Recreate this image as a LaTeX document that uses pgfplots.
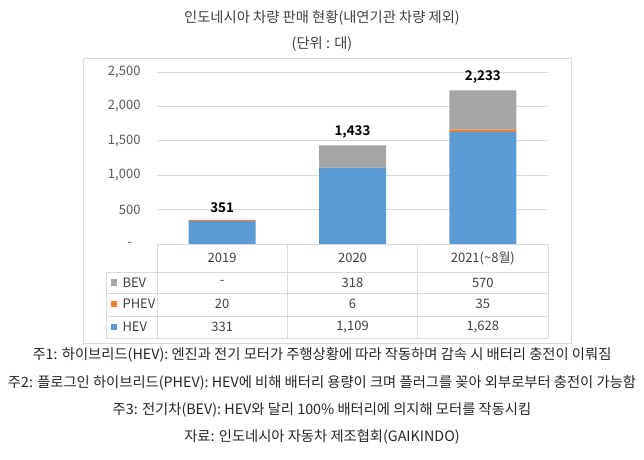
\documentclass[border=0pt]{standalone}
\usepackage{fontspec}
\setmainfont{Noto Sans CJK KR}[BoldFont={Noto Sans CJK KR Bold}]
\usepackage{pgfplots}
\pgfplotsset{compat=1.18}
\definecolor{hev}{HTML}{5B9BD5}
\definecolor{phev}{HTML}{ED7D31}
\definecolor{bev}{HTML}{A5A5A5}
\definecolor{gridc}{HTML}{D9D9D9}
\definecolor{txt}{HTML}{404040}
\definecolor{tickc}{HTML}{595959}
\begin{document}
\begin{tikzpicture}
\useasboundingbox (0pt,0pt) rectangle (644pt,459pt);
\draw[gridc] (83pt,116pt) rectangle (571pt,401pt);
\node[text=txt,font=\fontsize{14.3}{16}\selectfont] at (322pt,441pt) {인도네시아 차량 판매 현황(내연기관 차량 제외)};
\node[text=txt,font=\fontsize{14.3}{16}\selectfont] at (322pt,415pt) {(단위 : 대)};

\begin{axis}[at={(157pt,215pt)}, anchor=south west, scale only axis,
  width=391pt, height=172pt,
  xmin=-0.5, xmax=2.5, ymin=0, ymax=2500,
  ybar stacked, bar width=67pt,
  axis line style={draw=none}, major tick length=0pt,
  xtick=\empty,
  ytick={0,500,1000,1500,2000,2500},
  yticklabels={{-\makebox[8.5pt]{}},{500},{1,000},{1,500},{2,000},{2,500}},
  ymajorgrids, grid style={gridc, line width=0.8pt},
  yticklabel style={font=\fontsize{13}{15}\selectfont, text=tickc, xshift=-13pt},
  /pgf/number format/assume math mode=true,
  clip=false,
  every axis plot/.append style={draw=none},
]
\addplot[fill=hev] coordinates {(0,331) (1,1109) (2,1628)};
\addplot[fill=phev] coordinates {(0,20) (1,6) (2,35)};
\addplot[fill=bev] coordinates {(0,0) (1,318) (2,570)};
\end{axis}

% totals above the stacks
\begin{axis}[at={(157pt,215pt)}, anchor=south west, scale only axis,
  width=391pt, height=172pt,
  xmin=-0.5, xmax=2.5, ymin=0, ymax=2500,
  hide axis, clip=false,
  nodes near coords, point meta=explicit symbolic,
  every node near coord/.append style={anchor=south, font=\fontsize{13.4}{15}\selectfont\bfseries, text=black, yshift=3.5pt},
]
\addplot[draw=none] coordinates {(0,351) [351] (1,1433) [{1,433}] (2,2233) [{2,233}]};
\end{axis}

\begin{axis}[at={(157pt,121pt)}, anchor=south west, scale only axis,
  width=391pt, height=94pt,
  xmin=-0.5, xmax=2.5, ymin=0, ymax=94,
  hide axis, clip=false,
  nodes near coords, point meta=explicit symbolic,
  every node near coord/.append style={anchor=center, font=\fontsize{13}{15}\selectfont, text=txt},
]
\draw[gridc, line width=0.8pt] (axis cs:-0.5,94) -- (axis cs:2.5,94);
\draw[gridc, line width=0.8pt] ([xshift=-51pt]axis cs:-0.5,66) -- (axis cs:2.5,66);
\draw[gridc, line width=0.8pt] ([xshift=-51pt]axis cs:-0.5,45) -- (axis cs:2.5,45);
\draw[gridc, line width=0.8pt] ([xshift=-51pt]axis cs:-0.5,22) -- (axis cs:2.5,22);
\draw[gridc, line width=0.8pt] ([xshift=-51pt]axis cs:-0.5,0) -- (axis cs:2.5,0);
\draw[gridc, line width=0.8pt] ([xshift=-51pt]axis cs:-0.5,0) -- ([xshift=-51pt]axis cs:-0.5,66);
\draw[gridc, line width=0.8pt] (axis cs:-0.5,0) -- (axis cs:-0.5,94);
\draw[gridc, line width=0.8pt] (axis cs:0.5,0) -- (axis cs:0.5,94);
\draw[gridc, line width=0.8pt] (axis cs:1.5,0) -- (axis cs:1.5,94);
\draw[gridc, line width=0.8pt] (axis cs:2.5,0) -- (axis cs:2.5,94);
\fill[bev] ([xshift=-43pt]axis cs:-0.5,55.5) ++(-3.3pt,-3.3pt) rectangle ++(6.6pt,6.6pt);
\fill[phev] ([xshift=-43pt]axis cs:-0.5,34) ++(-3.3pt,-3.3pt) rectangle ++(6.6pt,6.6pt);
\fill[hev] ([xshift=-43pt]axis cs:-0.5,11) ++(-3.3pt,-3.3pt) rectangle ++(6.6pt,6.6pt);
\node[anchor=west, font=\fontsize{13}{15}\selectfont, text=txt] at ([xshift=-38pt]axis cs:-0.5,55.5) {BEV};
\node[anchor=west, font=\fontsize{13}{15}\selectfont, text=txt] at ([xshift=-38pt]axis cs:-0.5,34) {PHEV};
\node[anchor=west, font=\fontsize{13}{15}\selectfont, text=txt] at ([xshift=-38pt]axis cs:-0.5,11) {HEV};
\addplot[draw=none] coordinates {(0,80) [2019] (1,80) [2020] (2,80) [{2021(\textasciitilde 8월)}]};
\addplot[draw=none] coordinates {(0,55.5) [-] (1,55.5) [318] (2,55.5) [570]};
\addplot[draw=none] coordinates {(0,34) [20] (1,34) [6] (2,34) [35]};
\addplot[draw=none] coordinates {(0,11) [331] (1,11) [{1,109}] (2,11) [{1,628}]};
\end{axis}

\begin{scope}[every node/.style={font=\fontsize{14.3}{16}\selectfont, text=black!85}]
\node at (322pt,104pt) {주1: 하이브리드(HEV): 엔진과 전기 모터가 주행상황에 따라 작동하며 감속 시 배터리 충전이 이뤄짐};
\node at (322pt,76pt) {주2: 플로그인 하이브리드(PHEV): HEV에 비해 배터리 용량이 크며 플러그를 꽂아 외부로부터 충전이 가능함};
\node at (322pt,49pt) {주3: 전기차(BEV): HEV와 달리 100\% 배터리에 의지해 모터를 작동시킴};
\node at (322pt,22pt) {자료: 인도네시아 자동차 제조협회(GAIKINDO)};
\end{scope}
\end{tikzpicture}
\end{document}
